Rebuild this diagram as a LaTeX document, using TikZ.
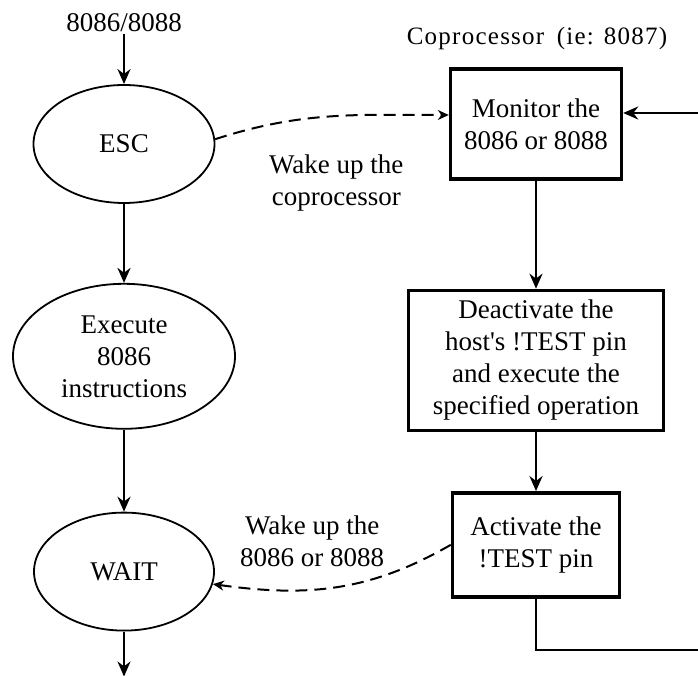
\documentclass[tikz,border=0pt]{standalone}
\usepackage{fontspec}
\setmainfont{Liberation Serif}
\usepackage{tikz}
\usetikzlibrary{arrows.meta}
\usetikzlibrary{shapes.geometric}
\usetikzlibrary{positioning,calc}
\newcommand{\flowfont}{\fontsize{27}{32}\selectfont}
\newcommand{\copfont}{\fontsize{25}{28}\selectfont\addfontfeature{LetterSpace=5}}
\tikzset{
	every node/.style={font=\flowfont}
}
\tikzset{
	state node/.style={ellipse,draw,line width=1.8pt,inner sep=0pt,align=center},
	task box/.style={rectangle,draw,line width=3.4pt,inner sep=0pt,align=center},
	flow/.style={line width=2.8pt,->},
	wake/.style={dash pattern=on 12pt off 7pt,line width=2pt,-{Stealth[length=11pt,width=10pt]}},
	note/.style={align=center,inner sep=2pt}
}
\tikzset{
	>={Stealth[length=15pt,width=13pt]},node distance=80pt,x=1pt,y=1pt
}

\begin{document}
\begin{tikzpicture}
	\useasboundingbox (0,0) rectangle (698,675);
	% host side
	\node[note] (host) at (124,652) {8086/8088};
	\node[state node, minimum width=181pt, minimum height=118pt] (esc) at (124,531) {ESC};
	\node[state node, minimum width=222pt, minimum height=145pt] (exec) [below = 79pt of esc] {Execute\\8086\\instructions};
	\node[state node, minimum width=180pt, minimum height=118pt] (wait) [below = 82pt of exec] {WAIT};
	\coordinate[below = 45pt of wait] (next);
	% coprocessor side
	\node[note, font=\copfont] (cop) at (537,637) {Coprocessor\enspace(ie: 8087)};
	\node[task box, minimum width=171pt, minimum height=110pt] (mon) at (536,551) {Monitor the\\8086 or 8088};
	\node[task box, minimum width=255pt, minimum height=140pt] (deact) [below = 108pt of mon] {Deactivate the\\host\textquotesingle s !TEST pin\\and execute the\\specified operation};
	\node[task box, minimum width=167pt, minimum height=104pt] (act) [below = 59pt of deact] {Activate the\\!TEST pin};
	\coordinate (loop) at (701,25);
	\draw[flow] (host) -- (esc);
	\draw[flow] (esc) -- (exec);
	\draw[flow] (exec) -- (wait);
	\draw[flow] (wait) -- (next);
	\draw[flow] (mon) -- (deact);
	\draw[flow] (deact) -- (act);
	\draw[flow] (act.south) |- (loop) |- ([yshift=11pt]mon.east);
	\path (esc.3) edge[wake, out=18, in=180] node[note, below=35pt, xshift=6pt] {Wake up the\\coprocessor} ([yshift=9pt]mon.west);
	\path (act.west) edge[wake, out=210, in=-8] node[note, above=17pt, xshift=-24pt] {Wake up the\\8086 or 8088} (wait.-8);
\end{tikzpicture}
\end{document}
